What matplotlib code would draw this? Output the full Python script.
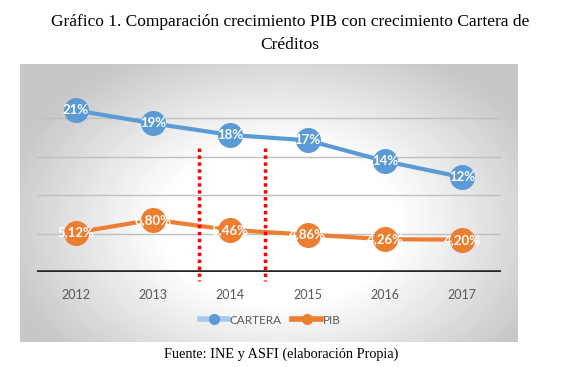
import numpy as np
import matplotlib
matplotlib.use("Agg")
import matplotlib.pyplot as plt
from matplotlib.lines import Line2D

years = ["2012", "2013", "2014", "2015", "2016", "2017"]
cartera = [21.0, 19.3, 17.8, 17.1, 14.4, 12.3]
pib = [5.12, 6.80, 5.46, 4.86, 4.26, 4.20]
cartera_labels = ["21%", "19%", "18%", "17%", "14%", "12%"]
pib_labels = ["5,12%", "6,80%", "5,46%", "4,86%", "4,26%", "4,20%"]

blue = "#5B9BD5"
orange = "#ED7D31"
W, H = 569, 367

fig = plt.figure(figsize=(W / 100, H / 100), dpi=100)

# panel background with radial gradient
px0, px1, py0, py1 = 20, 518, 64, 342
bg = fig.add_axes([px0 / W, 1 - py1 / H, (px1 - px0) / W, (py1 - py0) / H])
gx, gy = np.meshgrid(np.arange(px1 - px0), np.arange(py1 - py0))
r = np.sqrt(((gx - 260) / 260.0) ** 2 + ((gy - 160) / 175.0) ** 2)
shade = 1 - 0.22 * np.clip((r - 0.45) / 0.65, 0, 1)
bg.imshow(shade, cmap="gray", vmin=0, vmax=1, aspect="auto", interpolation="bilinear")
bg.axis("off")

ax = fig.add_axes([37 / W, 1 - 272 / H, 464 / W, 192.5 / H])
ax.patch.set_alpha(0)
x = np.arange(len(years))

ax.set_xlim(-0.5, 5.5)
ax.set_ylim(0, 25)
ax.set_yticks([5, 10, 15, 20])
ax.yaxis.grid(True, color="#BFBFBF", lw=1)
ax.set_axisbelow(True)
ax.tick_params(axis="y", length=0, labelleft=False)
ax.set_xticks(x)
ax.set_xticklabels(years, fontsize=9, color="#595959", family="Lato")
ax.tick_params(axis="x", length=0, pad=12)
for s in ax.spines.values():
    s.set_visible(False)
ax.axhline(0, color="#262626", lw=2.6, zorder=2)

ax.plot(x, cartera, color=blue, lw=3, marker="o", ms=17, zorder=3)
ax.plot(x, pib, color=orange, lw=3, marker="o", ms=17, zorder=3)

for xi, v, t in zip(x, cartera, cartera_labels):
    ax.text(xi, v, t, ha="center", va="center", color="white", fontsize=9.5,
            fontweight="bold", family="Lato", zorder=4)
for xi, v, t in zip(x, pib, pib_labels):
    ax.text(xi, v, t, ha="center", va="center", color="white", fontsize=9.5,
            fontweight="bold", family="Lato", zorder=4)

# red dotted markers around 2014
for xv in [1.6, 2.45]:
    ax.plot([xv, xv], [16.1, -1.2], color="red", lw=2.5, ls=(0, (1, 1)),
            clip_on=False, zorder=5)

handles = [
    Line2D([], [], color="#A9C8EA", lw=4, marker="o", ms=7, mfc=blue, mec=blue),
    Line2D([], [], color=orange, lw=4, marker="o", ms=7),
]
fig.legend(handles, ["CARTERA", "PIB"], loc="center", bbox_to_anchor=(270 / W, 1 - 320 / H),
           ncol=2, frameon=False, handlelength=2.4, columnspacing=0.9, handletextpad=0.15,
           prop={"family": "Lato", "size": 8.5}, labelcolor="#595959")

fig.text(290 / W, 1 - 22 / H, "Gráfico 1. Comparación crecimiento PIB con crecimiento Cartera de",
         ha="center", va="center", family="Liberation Serif", fontsize=12.5)
fig.text(290 / W, 1 - 45 / H, "Créditos", ha="center", va="center",
         family="Liberation Serif", fontsize=12.5)
fig.text(281 / W, 1 - 354 / H, "Fuente: INE y ASFI (elaboración Propia)", ha="center",
         va="center", family="Liberation Serif", fontsize=10.3)

fig.savefig("out.png", dpi=100)
